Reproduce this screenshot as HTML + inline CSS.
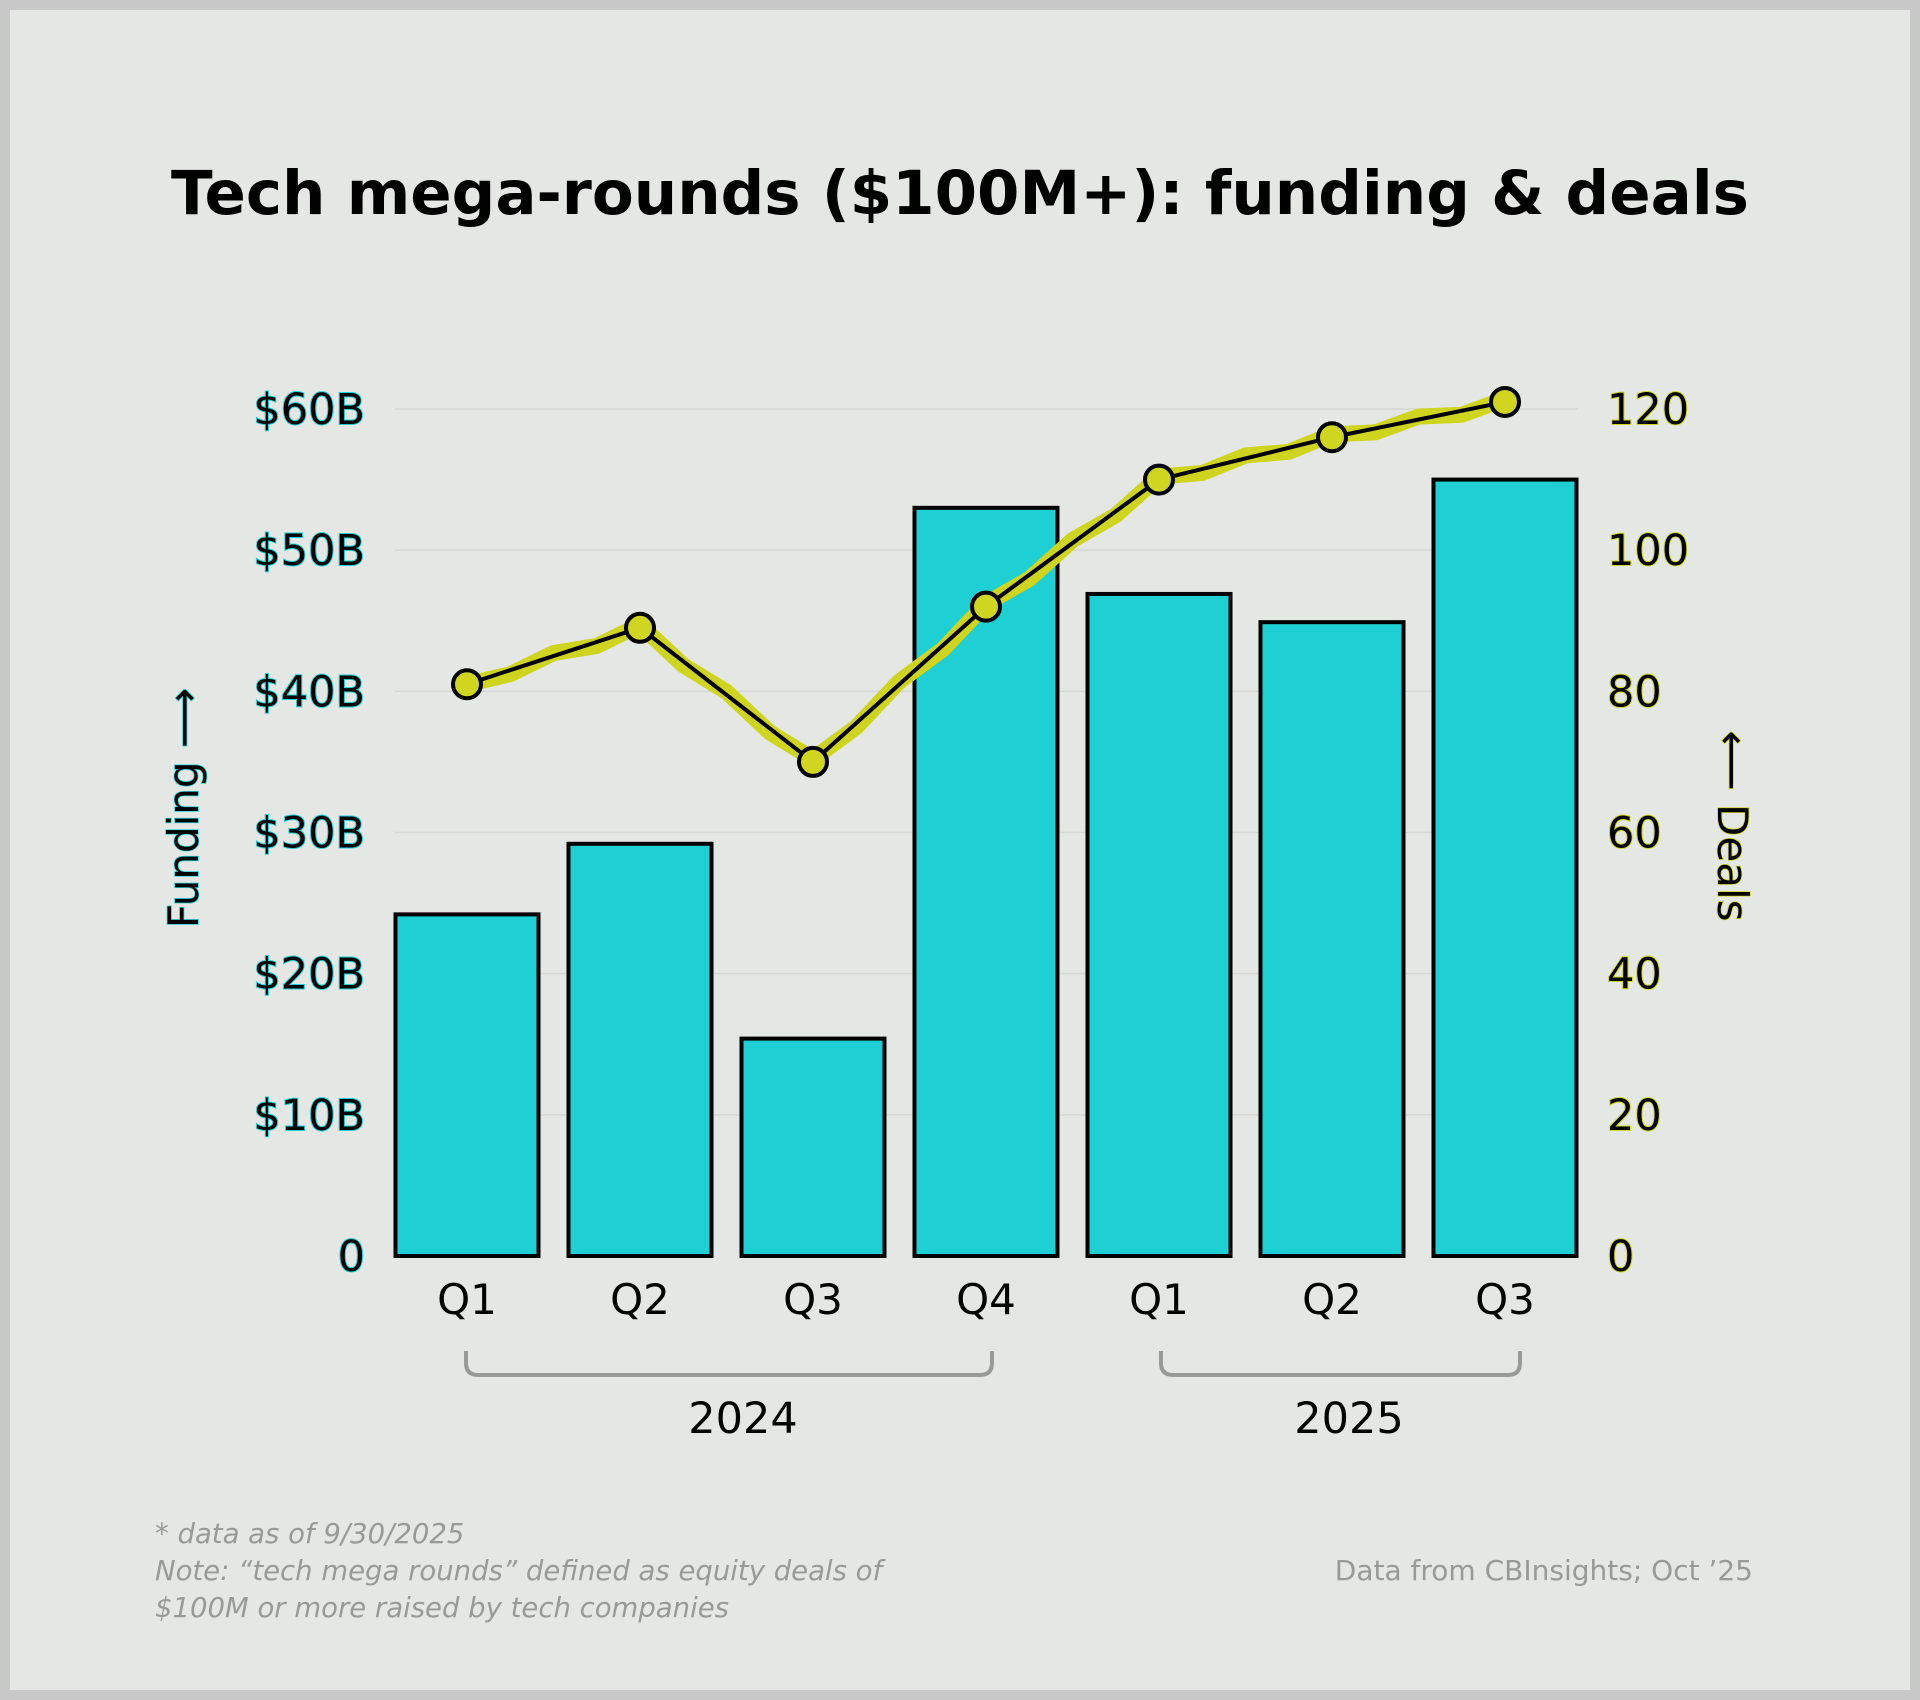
<!DOCTYPE html>
<html><head><meta charset="utf-8">
<style>
html,body{margin:0;padding:0;}
body{width:1920px;height:1700px;background:#c8c8c8;position:relative;overflow:hidden;font-family:"DejaVu Sans","Liberation Sans",sans-serif;}
#frame{position:absolute;left:10px;top:10px;width:1900px;height:1680px;background:#e5e7e4;}
svg{position:absolute;left:0;top:0;}
</style></head>
<body>
<div id="frame"></div>
<svg id="chart" width="1920" height="1700">
<text x="960" y="214" text-anchor="middle" font-size="61" font-weight="bold" fill="#000">Tech mega-rounds ($100M+): funding &amp; deals</text>
<g id="grid"></g><g id="bars"></g><g id="line"></g><g id="axes"></g>
<g transform="translate(198,808) rotate(-90)">
<text x="0" y="0" text-anchor="middle" font-size="42" fill="#000" stroke="#1ecfd4" stroke-width="1.5" paint-order="stroke">Funding ⟶</text></g>
<g transform="translate(1718,826) rotate(90)">
<text x="0" y="0" text-anchor="middle" font-size="42" fill="#000" stroke="#d0d51f" stroke-width="1.5" paint-order="stroke">⟵ Deals</text></g>
<path d="M466 1351 v12 q0 12 12 12 h502 q12 0 12 -12 v-12" fill="none" stroke="#999" stroke-width="4"/>
<path d="M1161 1351 v12 q0 12 12 12 h335 q12 0 12 -12 v-12" fill="none" stroke="#999" stroke-width="4"/>
<text x="743" y="1433" text-anchor="middle" font-size="43" fill="#000">2024</text>
<text x="1349" y="1433" text-anchor="middle" font-size="43" fill="#000">2025</text>
<g font-size="27.5" font-style="italic" fill="#999">
<text x="155" y="1543">* data as of 9/30/2025</text>
<text x="155" y="1580">Note: “tech mega rounds” defined as equity deals of</text>
<text x="155" y="1617">$100M or more raised by tech companies</text>
</g>
<text x="1753" y="1580" text-anchor="end" font-size="28" fill="#999">Data from CBInsights; Oct ’25</text>
</svg>
<script>
const categories = ["Q1","Q2","Q3","Q4","Q1","Q2","Q3"];
const fundingValues = [24.2, 29.2, 15.4, 53.0, 46.9, 44.9, 55.0];
const dealValues = [81, 89, 70, 92, 110, 116, 121];
const fundingTicks = [0,10,20,30,40,50,60];
const fundingTickLabels = ["0","$10B","$20B","$30B","$40B","$50B","$60B"];
const dealTicks = [0,20,40,60,80,100,120];

const NS="http://www.w3.org/2000/svg";
const y0=1256, yTop=409;
const yF=v=>y0-(v/60)*(y0-yTop);
const yD=v=>y0-(v/120)*(y0-yTop);
const xC=i=>467+i*173;
const bw=143;
function mk(tag,attrs,parent){const e=document.createElementNS(NS,tag);for(const k in attrs)e.setAttribute(k,attrs[k]);parent.appendChild(e);return e;}
const grid=document.getElementById('grid'),bars=document.getElementById('bars'),line=document.getElementById('line'),axes=document.getElementById('axes');
fundingTicks.forEach((t,i)=>{
  if(t>0){const g=mk('line',{x1:395,x2:1578,y1:yF(t),y2:yF(t),stroke:'#d5d7d4','stroke-width':1.5},grid);
  
  }
  const tx=mk('text',{x:365,y:yF(t)+15,'text-anchor':'end','font-size':43,fill:'#000',stroke:'#1ecfd4','stroke-width':2,'paint-order':'stroke'},axes);
  tx.textContent=fundingTickLabels[i];
  
  
});
dealTicks.forEach(t=>{
  const tx=mk('text',{x:1607,y:yD(t)+15,'font-size':43,fill:'#000',stroke:'#d0d51f','stroke-width':2,'paint-order':'stroke'},axes);
  tx.textContent=String(t);
  
  
});
categories.forEach((c,i)=>{
  const r=mk('rect',{x:xC(i)-bw/2,y:yF(fundingValues[i]),width:bw,height:y0-yF(fundingValues[i]),fill:'#1ecfd4',stroke:'#000','stroke-width':4},bars);
  
  
  const tx=mk('text',{x:xC(i),y:1314,'text-anchor':'middle','font-size':42,fill:'#000'},axes);
  tx.textContent=c;
  
  
});
let hd='';
dealValues.forEach((v,i)=>{
  const x=xC(i),y=yD(v);
  if(i===0){hd+=`M${x} ${y}`;}else{
    const px=xC(i-1),py=yD(dealValues[i-1]);
    for(let k=1;k<=4;k++){const f=k/4;const w=(k%2?4:-3);hd+=` L${px+(x-px)*f} ${py+(y-py)*f+w}`;}
  }
});
const hl=mk('path',{d:hd,fill:'none',stroke:'#cfd41e','stroke-width':16,'stroke-linecap':'round','stroke-linejoin':'round'},line);


const pd=dealValues.map((v,i)=>(i?'L':'M')+xC(i)+' '+yD(v)).join(' ');
const pl=mk('path',{d:pd,fill:'none',stroke:'#000','stroke-width':4},line);


dealValues.forEach((v,i)=>{
  const c=mk('circle',{cx:xC(i),cy:yD(v),r:14,fill:'#d0d51f',stroke:'#000','stroke-width':4},line);
  
  
});
</script>
</body></html>
